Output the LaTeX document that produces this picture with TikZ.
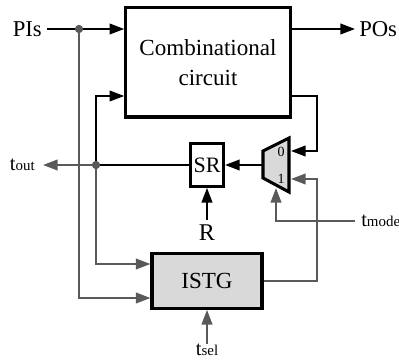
\documentclass[tikz,border=0pt]{standalone}
\usepackage{fontspec}
\setmainfont{Liberation Serif}
\usetikzlibrary{arrows.meta,positioning,calc}
\definecolor{wiregray}{HTML}{5A5A5A}
\definecolor{boxgray}{HTML}{D9D9D9}
\newcommand{\lbl}[2]{#1{\fontsize{11.2pt}{12pt}\selectfont #2}}

\begin{document}
\begin{tikzpicture}[
   x=.75pt,y=-.75pt,
   font=\fontsize{17.3pt}{22.5pt}\selectfont,
   block/.style={draw,line width=2.3pt,align=center,inner sep=0pt},
   shaded/.style={block,fill=boxgray},
   wire/.style={line width=1.4pt,-{Triangle[length=11pt,width=8pt]}},
   bwire/.style={wire,black},
   gwire/.style={wire,wiregray},
   dot/.style={circle,fill=wiregray,inner sep=0pt,minimum size=6pt},
   txt/.style={inner sep=0pt,font=\fontsize{17pt}{18pt}\selectfont},
   small/.style={inner sep=0pt,font=\fontsize{15.4pt}{18pt}\selectfont}]
 \useasboundingbox (0,0) rectangle (399,363);
 \node[block,minimum width=123.4pt,minimum height=81.8pt] (comb) at (208,62.5) {Combinational\\circuit};
 \node[block,font=\fontsize{16.5pt}{18pt}\selectfont,minimum width=24.8pt,minimum height=32pt] (sr) at (207,165) {SR};
 \node[shaded,minimum width=82.5pt,minimum height=41pt] (istg) at (207,281) {ISTG};
 % mux outline
 \coordinate (muxa) at (263,151); \coordinate (muxb) at (289,138);
 \coordinate (muxc) at (289,192); \coordinate (muxd) at (263,178);
 \draw[line width=2.3pt,fill=boxgray,line join=miter] (muxa) -- (muxb) -- (muxc) -- (muxd) -- cycle;
 \node[inner sep=0pt,font=\fontsize{10.5pt}{12pt}\selectfont] (mux0) at (281,152) {0};
 \node[inner sep=0pt,font=\fontsize{10.5pt}{12pt}\selectfont] (mux1) at (281,179) {1};
 \coordinate (muxin0) at (291,151); \coordinate (muxin1) at (291,179);
 \coordinate (muxout) at (262,165); \coordinate (muxsel) at (276,188);
 % labels
 \node[txt,anchor=east] (pis) at (42,29) {PIs};
 \node[txt,anchor=west] (pos) at (359,29) {POs};
 \node[small,anchor=east] (tout) at (35,165) {\lbl{t}{out}};
 \node[small,anchor=west] (tmode) at (361,221) {\lbl{t}{mode}};
 \node[txt,font=\fontsize{18pt}{18pt}\selectfont] (r) at (207,233) {R};
 \node[small] (tsel) at (207,350) {\lbl{t}{sel}};
 \node[dot] (dpi) at (79,29) {};
 \node[dot] (dsr) at (96,165) {};
 % test wires
 \draw[gwire] (dpi) |- (istg.west |- 0,298);
 \draw[gwire] (dsr) |- (istg.west |- 0,264);
 \draw[gwire] (dsr) -- ($(tout.east)+(8,0)$);
 \draw[gwire] (istg.east) -| (317,179) -- (muxin1);
 \draw[gwire] ($(tmode.west)+(-6,0)$) -| (muxsel);
 \draw[gwire] (tsel.north) -- (istg.south);
 % functional wires
 \draw[bwire] ($(pis.east)+(5,0)$) -- (comb.west |- pis);
 \draw[bwire] (dsr) |- (comb.west |- 0,96);
 \draw[line width=1.4pt] (sr.west) -- (dsr);
 \draw[bwire] (comb.east |- 0,96) -| (317,151) -- (muxin0);
 \draw[bwire] (comb.east |- pos) -- ($(pos.west)+(-4,0)$);
 \draw[bwire] (muxout) -- (sr.east);
 \draw[bwire] ($(r.north)+(0,-5)$) -- (sr.south);
 \node[dot] at (dpi) {};
 \node[dot] at (dsr) {};
\end{tikzpicture}
\end{document}
